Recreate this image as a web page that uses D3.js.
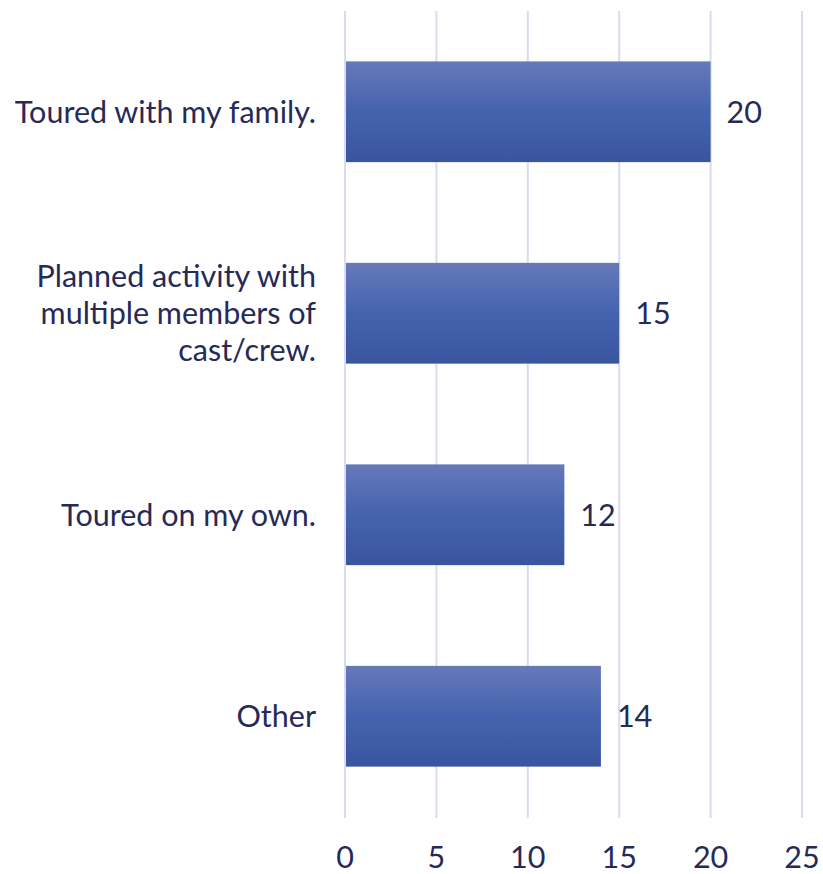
<!doctype html>
<html>
<head>
<meta charset="utf-8">
<title>Touring bar chart</title>
<script src="https://cdnjs.cloudflare.com/ajax/libs/d3/7.8.5/d3.min.js"></script>
<style>
  body { margin: 0; background: #fff; }
  text { font-family: Lato, "Open Sans", sans-serif; fill: #262a58; }
</style>
</head>
<body>
<div id="chartContainer"></div>
<script>
// data
var categories = [
  ["Toured with my family."],
  ["Planned activity with", "multiple members of", "cast/crew."],
  ["Toured on my own."],
  ["Other"]
];
var values = [20, 15, 12, 14];
var xTicks = [0, 5, 10, 15, 20, 25];

var width = 823, height = 874;
var margin = {top: 11, right: 21, bottom: 56, left: 345};
var fontSize = "30.5px";

var svg = d3.select("#chartContainer").append("svg")
    .attr("width", width)
    .attr("height", height);

var grad = svg.append("defs").append("linearGradient")
    .attr("id", "barGrad")
    .attr("x1", 0).attr("y1", 0).attr("x2", 0).attr("y2", 1);
grad.append("stop").attr("offset", "0%").attr("stop-color", "#6679ba");
grad.append("stop").attr("offset", "50%").attr("stop-color", "#4463ae");
grad.append("stop").attr("offset", "100%").attr("stop-color", "#3a559f");

var x = d3.scaleLinear()
    .domain([0, 25])
    .range([margin.left, width - margin.right]);

var y = d3.scaleBand()
    .domain(d3.range(categories.length))
    .range([margin.top, height - margin.bottom - 1])
    .paddingInner(0.5)
    .paddingOuter(0.25);

// gridlines
svg.append("g").selectAll("line")
    .data(xTicks)
    .enter().append("line")
    .attr("x1", function(d){ return x(d); })
    .attr("x2", function(d){ return x(d); })
    .attr("y1", margin.top)
    .attr("y2", height - margin.bottom)
    .attr("stroke", "#d9dbf0")
    .attr("stroke-width", 2);

// bars
svg.append("g").selectAll("rect")
    .data(values)
    .enter().append("rect")
    .attr("x", x(0) + 1)
    .attr("y", function(d, i){ return y(i); })
    .attr("width", function(d){ return x(d) - x(0) - 1; })
    .attr("height", y.bandwidth())
    .attr("fill", "url(#barGrad)");

// value labels
svg.append("g").selectAll("text")
    .data(values)
    .enter().append("text")
    .attr("x", function(d){ return x(d) + 16; })
    .attr("y", function(d, i){ return y(i) + y.bandwidth() / 2; })
    .attr("dy", "0.36em")
    .style("font-size", fontSize)
    .text(function(d){ return d; });

// category labels
var lineH = 37;
var cats = svg.append("g").selectAll("text")
    .data(categories)
    .enter().append("text")
    .attr("text-anchor", "end")
    .style("font-size", fontSize);
cats.each(function(lines, i) {
  var t = d3.select(this);
  var cy = y(i) + y.bandwidth() / 2;
  var startY = cy - (lines.length - 1) * lineH / 2;
  lines.forEach(function(s, k) {
    t.append("tspan")
      .attr("x", 316)
      .attr("y", startY + k * lineH)
      .attr("dy", "0.36em")
      .text(s);
  });
});

// x tick labels
svg.append("g").selectAll("text")
    .data(xTicks)
    .enter().append("text")
    .attr("x", function(d){ return x(d); })
    .attr("y", 857)
    .attr("dy", "0.36em")
    .attr("text-anchor", "middle")
    .style("font-size", fontSize)
    .text(function(d){ return d; });
</script>
</body>
</html>
